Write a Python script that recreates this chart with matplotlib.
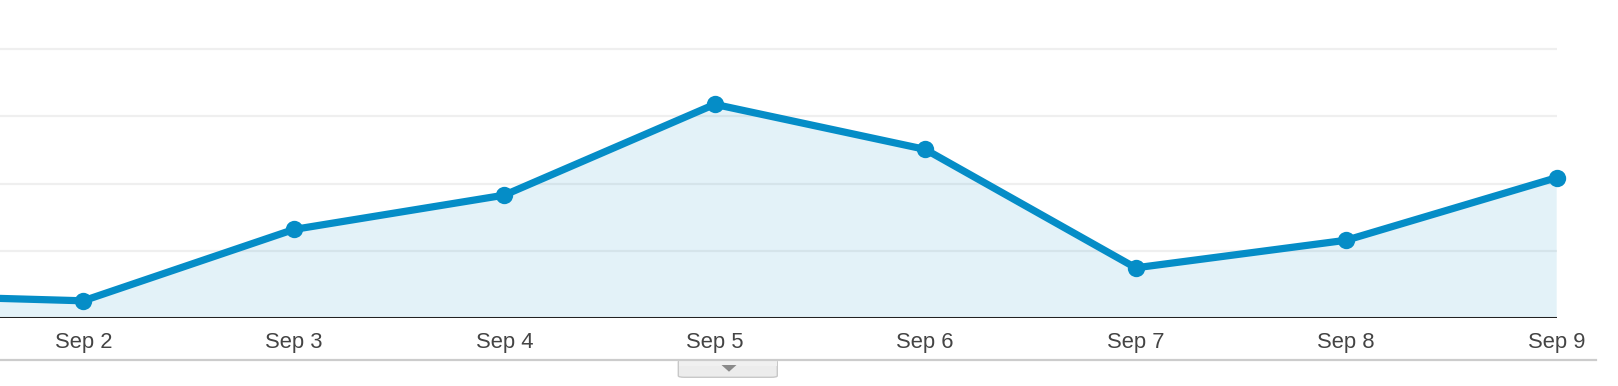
import matplotlib
matplotlib.use("Agg")
import matplotlib.pyplot as plt
from matplotlib.patches import FancyBboxPatch, Polygon, Rectangle
from matplotlib.transforms import blended_transform_factory

# Data
days = [1, 2, 3, 4, 5, 6, 7, 8, 9]
day_labels = ["Sep 1", "Sep 2", "Sep 3", "Sep 4", "Sep 5", "Sep 6", "Sep 7", "Sep 8", "Sep 9"]
visits = [35, 26, 132, 183, 318, 251, 75, 116, 209]
grid_values = [100, 200, 300, 400]
shown_labels = ["Sep 2", "Sep 3", "Sep 4", "Sep 5", "Sep 6", "Sep 7", "Sep 8", "Sep 9"]

W, H = 1618, 386
fig = plt.figure(figsize=(W / 100, H / 100), dpi=100)
fig.patch.set_facecolor("white")

ax_left_px, ax_right_px = 0, 1556.7
ax_bottom_px = 318.3
ax = fig.add_axes([ax_left_px / W, 1 - ax_bottom_px / H, (ax_right_px - ax_left_px) / W, ax_bottom_px / H])
ax.set_facecolor("none")
for s in ax.spines.values():
    s.set_visible(False)

x0 = 1 + 127.2 / 210.5
ax.set_xlim(x0, 9)
ax.set_ylim(0, 473)

# gridlines
for g in grid_values:
    ax.axhline(g, color="#efefef", lw=1.6, zorder=0)

line_color = "#058dc7"
ax.fill_between(days, visits, 0, color=line_color, alpha=0.11, lw=0, zorder=1)
ax.plot(days, visits, color=line_color, lw=5.2, marker="o", markersize=12.5,
        markeredgewidth=0, solid_joinstyle="round", clip_on=False, zorder=3)

# baseline
ax.axhline(0, color="#222222", lw=2.2, zorder=4)

ax.set_xticks([])
ax.set_yticks([])

# tick labels
trans = blended_transform_factory(ax.transData, fig.transFigure)
for lab in shown_labels:
    d = days[day_labels.index(lab)]
    ax.text(d, 1 - 348 / H, lab, transform=trans, ha="center", va="baseline",
            fontsize=15.8, color="#444444", family="Liberation Sans", clip_on=False)

# bottom separator line
fig.add_artist(plt.Line2D([0, 1596 / W], [1 - 360 / H, 1 - 360 / H], color="#cccccc", lw=1.6,
                          transform=fig.transFigure))

# tab below
tx0, tx1, ty0, ty1 = 678.3, 777.3, 360.5, 377.3
tab = FancyBboxPatch((tx0 / W, 1 - ty1 / H), (tx1 - tx0) / W, (ty1 - ty0) / H,
                     boxstyle="round,pad=0,rounding_size=0.004", transform=fig.transFigure,
                     facecolor="#ececec", edgecolor="#c8c8c8", lw=1.0)
fig.add_artist(tab)
# cover top rounded corners to keep flat top
fig.add_artist(Rectangle((tx0 / W + 0.0003, 1 - 366 / H), (tx1 - tx0) / W - 0.0006, 5.5 / H,
                         transform=fig.transFigure, facecolor="#f0f0f0", edgecolor="none"))
tri = Polygon([[(729 - 7.5) / W, 1 - 365 / H], [(729 + 7.5) / W, 1 - 365 / H], [729 / W, 1 - 371.7 / H]],
              closed=True, transform=fig.transFigure, facecolor="#8a8a8a", edgecolor="none")
fig.add_artist(tri)

fig.savefig("out.png", dpi=100, facecolor="white")
